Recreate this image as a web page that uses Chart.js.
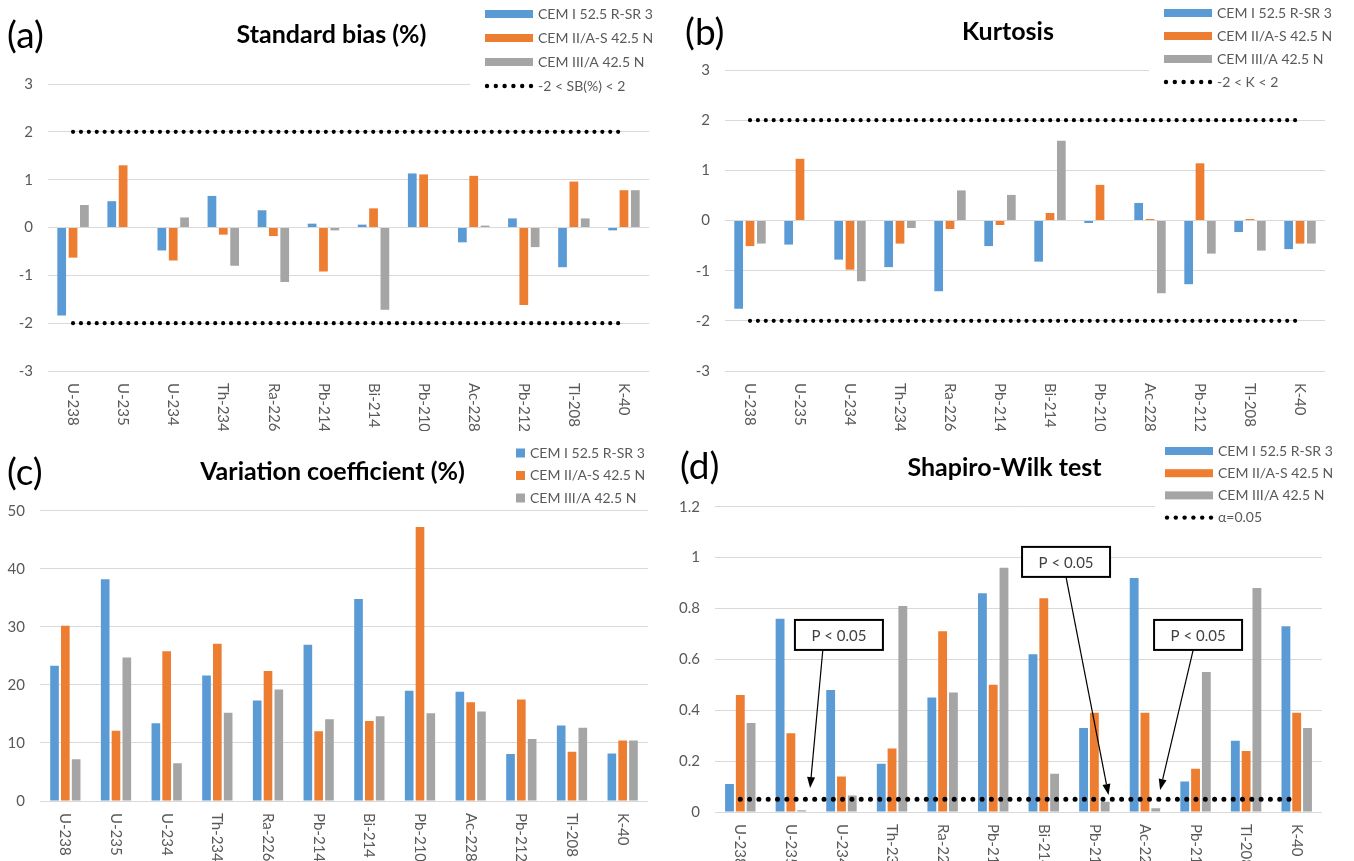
<!DOCTYPE html>
<html>
<head>
<meta charset="utf-8">
<title>Radionuclide statistics by cement type</title>
<script src="https://cdn.jsdelivr.net/npm/chart.js@4.4.1/dist/chart.umd.min.js"></script>
<style>
  html, body { margin: 0; padding: 0; background: #fff; }
  body { position: relative; width: 1354px; height: 861px; overflow: hidden; }
  .panel { position: absolute; }
</style>
</head>
<body>
<div class="panel" style="left:0;top:0;width:677px;height:431px"><canvas id="bias"></canvas></div>
<div class="panel" style="left:677px;top:0;width:677px;height:431px"><canvas id="kurtosis"></canvas></div>
<div class="panel" style="left:0;top:431px;width:677px;height:430px"><canvas id="variation"></canvas></div>
<div class="panel" style="left:677px;top:431px;width:677px;height:430px"><canvas id="shapiro"></canvas></div>
<script>
const isotopes = ['U-238', 'U-235', 'U-234', 'Th-234', 'Ra-226', 'Pb-214', 'Bi-214', 'Pb-210', 'Ac-228', 'Pb-212', 'Tl-208', 'K-40'];
const cements = ['CEM I 52.5 R-SR 3', 'CEM II/A-S 42.5 N', 'CEM III/A 42.5 N'];

// (a) standard bias (%)
const biasCemI   = [-1.84, 0.55, -0.48, 0.66, 0.36, 0.08, 0.06, 1.13, -0.31, 0.19, -0.83, -0.06];
const biasCemII  = [-0.63, 1.30, -0.69, -0.15, -0.18, -0.92, 0.40, 1.11, 1.08, -1.62, 0.96, 0.78];
const biasCemIII = [0.47, 0, 0.21, -0.80, -1.14, -0.06, -1.72, 0, 0.04, -0.41, 0.19, 0.78];
const biasLimit = 2;

// (b) kurtosis
const kurtCemI   = [-1.76, -0.48, -0.78, -0.93, -1.41, -0.51, -0.82, -0.05, 0.35, -1.27, -0.23, -0.57];
const kurtCemII  = [-0.51, 1.23, -0.98, -0.46, -0.17, -0.09, 0.15, 0.71, 0.03, 1.14, 0.03, -0.46];
const kurtCemIII = [-0.46, 0, -1.21, -0.15, 0.60, 0.51, 1.59, 0, -1.45, -0.66, -0.60, -0.46];
const kurtLimit = 2;

// (c) variation coefficient (%)
const cvCemI   = [23.3, 38.2, 13.4, 21.6, 17.3, 26.9, 34.8, 19.0, 18.8, 8.1, 13.0, 8.2];
const cvCemII  = [30.2, 12.1, 25.8, 27.1, 22.4, 12.0, 13.8, 47.2, 17.0, 17.5, 8.5, 10.4];
const cvCemIII = [7.2, 24.7, 6.5, 15.2, 19.2, 14.1, 14.6, 15.1, 15.4, 10.7, 12.6, 10.4];

// (d) Shapiro-Wilk p-values
const swCemI   = [0.11, 0.76, 0.48, 0.19, 0.45, 0.86, 0.62, 0.33, 0.92, 0.12, 0.28, 0.73];
const swCemII  = [0.46, 0.31, 0.14, 0.25, 0.71, 0.50, 0.84, 0.39, 0.39, 0.17, 0.24, 0.39];
const swCemIII = [0.35, 0.007, 0.065, 0.81, 0.47, 0.96, 0.15, 0.04, 0.015, 0.55, 0.88, 0.33];
const swAlpha = 0.05;

// callouts on (d), in category index / p-value units
const swNotes = [
  { text: 'P < 0.05', box: [1.95, 0.696], from: [1.63, 0.634], to: [1.38, 0.094] },
  { text: 'P < 0.05', box: [6.44, 0.983], from: [6.44, 0.923], to: [7.28, 0.067] },
  { text: 'P < 0.05', box: [9.05, 0.696], from: [8.95, 0.634], to: [8.30, 0.086] },
];

const COLORS = ['#5B9BD5', '#ED7D31', '#A5A5A5'];
const FONT = 'Lato';
const GREY = '#595959';

function bars(series, catPct, barPct) {
  return series.map((data, i) => ({
    type: 'bar',
    label: cements[i],
    data,
    backgroundColor: COLORS[i],
    borderWidth: 0,
    categoryPercentage: catPct,
    barPercentage: barPct,
    order: 2,
  }));
}

// dotted limit line running from the first to the last category
function limitLine(label, value, dot, inLegend) {
  return {
    type: 'line',
    label,
    inLegend,
    data: [{ x: isotopes[0], y: value }, { x: isotopes[isotopes.length - 1], y: value }],
    borderColor: '#000',
    borderWidth: dot.width,
    borderDash: [0, dot.gap],
    borderCapStyle: 'round',
    pointRadius: 0,
    fill: false,
    order: 1,
  };
}

function decor(cfg) {
  return {
    id: 'decor',
    afterDraw(chart) {
      const { ctx, chartArea: area } = chart;
      const x = chart.scales.x;
      ctx.save();

      // panel letter
      ctx.fillStyle = '#000';
      ctx.font = `37px ${FONT}`;
      ctx.textAlign = 'left';
      ctx.textBaseline = 'middle';
      ctx.fillText(cfg.tag, cfg.tagPos[0], cfg.tagPos[1]);

      // category labels, turned to read downwards
      ctx.fillStyle = GREY;
      ctx.font = `15px ${FONT}`;
      chart.data.labels.forEach((name, i) => {
        ctx.save();
        ctx.translate(x.getPixelForTick(i), area.bottom + 12);
        ctx.rotate(Math.PI / 2);
        ctx.fillText(name, 0, 0);
        ctx.restore();
      });

      // legend in the top right corner
      const lg = cfg.legend;
      if (lg.cover) {
        ctx.fillStyle = '#fff';
        ctx.fillRect(lg.cover, 0, chart.width - lg.cover, area.top + 8);
      }
      ctx.font = `14px ${FONT}`;
      let row = 0;
      chart.data.datasets.forEach((ds) => {
        if (ds.inLegend === false) return;
        const cy = lg.y + row * lg.step;
        if (ds.type === 'line') {
          ctx.fillStyle = '#000';
          for (let k = 0; k < 6; k++) {
            ctx.beginPath();
            ctx.arc(lg.x + 2 + k * 8.8, cy, 2.2, 0, Math.PI * 2);
            ctx.fill();
          }
        } else if (lg.square) {
          ctx.fillStyle = ds.backgroundColor;
          ctx.fillRect(lg.x, cy - 4.5, 9, 9);
        } else {
          ctx.fillStyle = ds.backgroundColor;
          ctx.fillRect(lg.x, cy - 4, 48, 8);
        }
        ctx.fillStyle = GREY;
        ctx.fillText(ds.label, lg.textX, cy);
        row++;
      });
      ctx.restore();
    },
  };
}

const callouts = {
  id: 'callouts',
  afterDatasetsDraw(chart) {
    const { ctx } = chart;
    const { x, y } = chart.scales;
    ctx.save();
    swNotes.forEach((n) => {
      const fx = x.getPixelForValue(n.from[0]), fy = y.getPixelForValue(n.from[1]);
      const tx = x.getPixelForValue(n.to[0]), ty = y.getPixelForValue(n.to[1]);
      const ang = Math.atan2(ty - fy, tx - fx);
      const hl = 11, hw = 4;
      const bx = tx - hl * Math.cos(ang), by = ty - hl * Math.sin(ang);
      ctx.strokeStyle = '#000';
      ctx.lineWidth = 1.2;
      ctx.beginPath();
      ctx.moveTo(fx, fy);
      ctx.lineTo(bx, by);
      ctx.stroke();
      ctx.fillStyle = '#000';
      ctx.beginPath();
      ctx.moveTo(tx, ty);
      ctx.lineTo(bx + hw * Math.sin(ang), by - hw * Math.cos(ang));
      ctx.lineTo(bx - hw * Math.sin(ang), by + hw * Math.cos(ang));
      ctx.closePath();
      ctx.fill();

      const cx = x.getPixelForValue(n.box[0]), cy = y.getPixelForValue(n.box[1]);
      const w = 88, h = 30;
      ctx.fillStyle = '#fff';
      ctx.fillRect(cx - w / 2, cy - h / 2, w, h);
      ctx.lineWidth = 2;
      ctx.strokeRect(cx - w / 2, cy - h / 2, w, h);
      ctx.fillStyle = '#404040';
      ctx.font = `15px ${FONT}`;
      ctx.textAlign = 'center';
      ctx.textBaseline = 'middle';
      ctx.fillText(n.text, cx, cy + 1);
    });
    ctx.restore();
  },
};

function makeChart(id, cfg) {
  return new Chart(document.getElementById(id), {
    type: 'bar',
    data: { labels: isotopes, datasets: cfg.datasets },
    options: {
      responsive: true,
      maintainAspectRatio: false,
      animation: false,
      events: [],
      layout: { padding: cfg.padding },
      plugins: {
        legend: { display: false },
        tooltip: { enabled: false },
        title: {
          display: true,
          text: cfg.title,
          color: '#000',
          font: { family: FONT, size: 25, weight: 'bold' },
          padding: cfg.titlePad,
        },
      },
      scales: {
        x: { display: false },
        y: {
          min: cfg.y.min,
          max: cfg.y.max,
          border: { display: false },
          grid: { color: '#D9D9D9', lineWidth: 1, drawTicks: false },
          ticks: {
            stepSize: cfg.y.step,
            padding: 15,
            color: GREY,
            font: { family: FONT, size: 15 },
            callback: (v) => String(+v.toFixed(1)),
          },
          afterFit: (s) => { s.width = cfg.y.width; },
        },
        // empty strip on the right, keeps the title centred where the original has it
        gap: {
          position: 'right',
          border: { display: false },
          grid: { display: false },
          ticks: { display: false },
          afterFit: (s) => { s.width = cfg.rightGap; },
        },
      },
    },
    plugins: [decor(cfg)].concat(cfg.extra || []),
  });
}

const bigDot = { width: 4.2, gap: 7.9 };

makeChart('bias', {
  title: 'Standard bias (%)',
  tag: '(a)', tagPos: [7, 36],
  padding: { left: 0, right: 14, top: 0, bottom: 60 },
  rightGap: 14,
  titlePad: { top: 20, bottom: 34 },
  y: { min: -3, max: 3, step: 1, width: 48 },
  legend: { x: 485, textX: 538, y: 14, step: 24, cover: 470 },
  datasets: bars([biasCemI, biasCemII, biasCemIII], 0.68, 0.77).concat([
    limitLine('-2 < SB(%) < 2', biasLimit, bigDot, true),
    limitLine('-2 < SB(%) < 2', -biasLimit, bigDot, false),
  ]),
});

makeChart('kurtosis', {
  title: 'Kurtosis',
  tag: '(b)', tagPos: [8, 33],
  padding: { left: 0, right: 15, top: 0, bottom: 60 },
  rightGap: 14,
  titlePad: { top: 17.3, bottom: 22.7 },
  y: { min: -3, max: 3, step: 1, width: 48 },
  legend: { x: 487, textX: 540, y: 13, step: 23, cover: 472 },
  datasets: bars([kurtCemI, kurtCemII, kurtCemIII], 0.68, 0.77).concat([
    limitLine('-2 < K < 2', kurtLimit, bigDot, true),
    limitLine('-2 < K < 2', -kurtLimit, bigDot, false),
  ]),
});

makeChart('variation', {
  title: 'Variation coefficient (%)',
  tag: '(c)', tagPos: [7, 42],
  padding: { left: 0, right: 12, top: 0, bottom: 60 },
  rightGap: 17,
  titlePad: { top: 25.7, bottom: 24 },
  y: { min: 0, max: 50, step: 10, width: 40 },
  legend: { x: 516, textX: 530, y: 22, step: 22.5, square: true },
  datasets: bars([cvCemI, cvCemII, cvCemIII], 0.64, 0.8),
});

makeChart('shapiro', {
  title: 'Shapiro-Wilk test',
  tag: '(d)', tagPos: [3, 36],
  padding: { left: 0, right: 22, top: 0, bottom: 49 },
  rightGap: 10,
  titlePad: { top: 22, bottom: 23.7 },
  y: { min: 0, max: 1.2, step: 0.2, width: 38 },
  legend: { x: 488, textX: 541, y: 20, step: 22.2, cover: 478 },
  datasets: bars([swCemI, swCemII, swCemIII], 0.64, 0.82).concat([
    limitLine('α=0.05', swAlpha, { width: 5, gap: 9.3 }, true),
  ]),
  extra: [callouts],
});
</script>
</body>
</html>
